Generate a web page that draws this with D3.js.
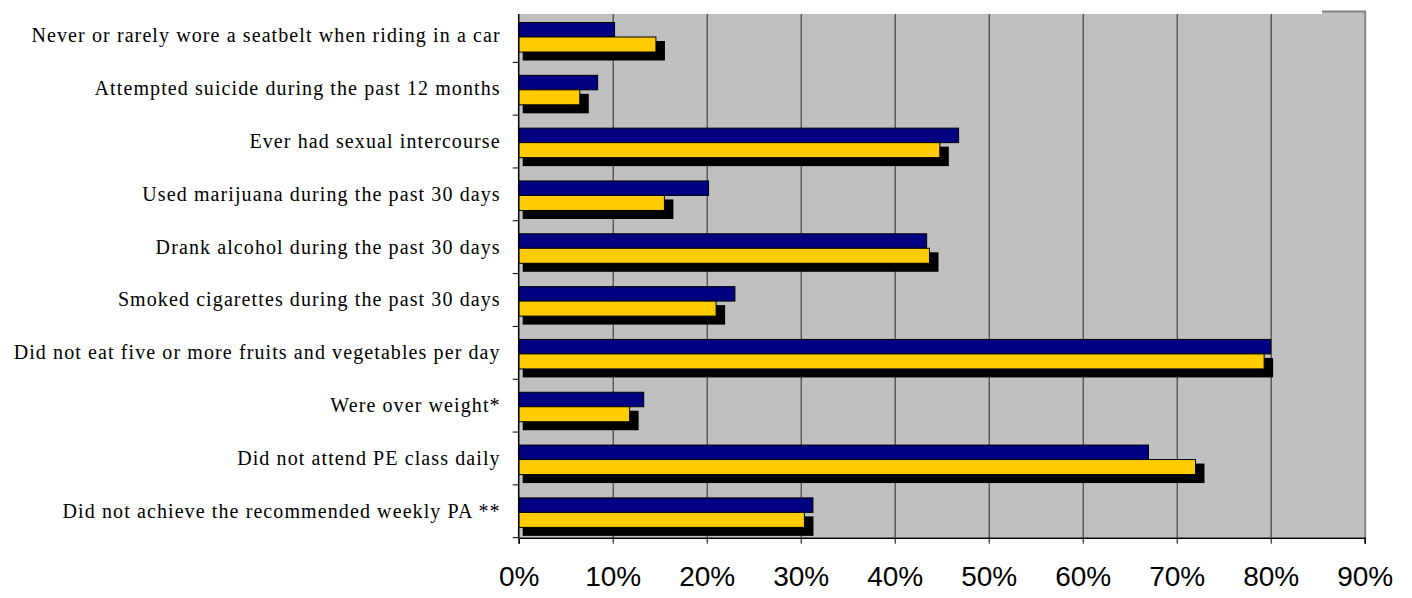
<!DOCTYPE html>
<html>
<head>
<meta charset="utf-8">
<script src="https://cdn.jsdelivr.net/npm/d3@7"></script>
<style>
  body { margin: 0; background: #fff; }
  .catLabel text { font-family: 'Liberation Serif', 'Times New Roman', serif; font-size: 20px; letter-spacing: 1.1px; fill: #000; }
  .xAxis text { font-family: 'Liberation Sans', Arial, sans-serif; font-size: 28px; fill: #000; }
</style>
</head>
<body>
<div class="chartContainer"></div>
<script>
var W = 1412;
var H = 598;

var categories = [
  'Never or rarely wore a seatbelt when riding in a car',
  'Attempted suicide during the past 12 months',
  'Ever had sexual intercourse',
  'Used marijuana during the past 30 days',
  'Drank alcohol during the past 30 days',
  'Smoked cigarettes during the past 30 days',
  'Did not eat five or more fruits and vegetables per day',
  'Were over weight*',
  'Did not attend PE class daily',
  'Did not achieve the recommended weekly PA **'
];

// navy series and yellow series
var navyValues = [0.102, 0.084, 0.468, 0.202, 0.434, 0.230, 0.800, 0.133, 0.670, 0.313];
var yellowValues = [0.146, 0.065, 0.448, 0.155, 0.437, 0.210, 0.793, 0.118, 0.720, 0.304];

var xTicks = [0, 0.1, 0.2, 0.3, 0.4, 0.5, 0.6, 0.7, 0.8, 0.9];

var svg = d3.select('.chartContainer').append('svg').attr('width', W).attr('height', H);

var xScale = d3.scaleLinear()
  .domain([0, 0.9])
  .range([518.7, 1364.7]);

var yScale = d3.scaleBand()
  .domain(categories)
  .range([9.5, 537.7])
  .paddingInner(0)
  .paddingOuter(0);

var x0 = xScale(0);
var plotBottom = yScale.range()[1];

/* ===== PLOT AREA ===== */

svg.append('rect')
  .attr('x', x0)
  .attr('y', 11)
  .attr('width', xScale(0.9) - x0)
  .attr('height', plotBottom - 11)
  .attr('fill', '#c0c0c0');

// plot border (top and right, grey)
svg.append('path')
  .attr('d', 'M' + x0 + ',11.5H' + (xScale(0.9) + 0.5) + 'V' + plotBottom)
  .attr('fill', 'none')
  .attr('stroke', '#808080')
  .attr('stroke-width', 2);

// white strip that hides the top of the plot area (as in the picture)
svg.append('rect')
  .attr('x', 0)
  .attr('y', 0)
  .attr('width', 1322)
  .attr('height', 14)
  .attr('fill', '#fff');

/* ===== GRIDLINES ===== */

svg.append('g')
  .selectAll('line')
  .data(xTicks.slice(1, -1))
  .enter()
  .append('line')
  .attr('x1', function (d) { return xScale(d) + 0.5; })
  .attr('x2', function (d) { return xScale(d) + 0.5; })
  .attr('y1', 14)
  .attr('y2', plotBottom)
  .attr('stroke', '#2a2a2a')
  .attr('stroke-width', 1);

/* ===== BARS ===== */

var navyTop = 13, navyH = 14.5;
var yellowTop = 27.5, yellowH = 15;

var groups = svg.selectAll('g.cat')
  .data(categories)
  .enter()
  .append('g')
  .attr('class', 'cat');

// black shadow behind the yellow bars
groups.append('rect')
  .attr('x', x0 + 4)
  .attr('y', function (d) { return yScale(d) + yellowTop + 4; })
  .attr('width', function (d, i) { return xScale(yellowValues[i]) - x0 + 5; })
  .attr('height', yellowH + 4.5)
  .attr('fill', '#000');

groups.append('rect')
  .attr('x', x0)
  .attr('y', function (d) { return yScale(d) + navyTop; })
  .attr('width', function (d, i) { return xScale(navyValues[i]) - x0; })
  .attr('height', navyH)
  .attr('fill', '#000080')
  .attr('stroke', '#000')
  .attr('stroke-width', 1);

groups.append('rect')
  .attr('x', x0)
  .attr('y', function (d) { return yScale(d) + yellowTop; })
  .attr('width', function (d, i) { return xScale(yellowValues[i]) - x0; })
  .attr('height', yellowH)
  .attr('fill', '#ffcc00')
  .attr('stroke', '#000')
  .attr('stroke-width', 1);

/* ===== AXES ===== */

var xAxis = d3.axisBottom(xScale)
  .tickValues(xTicks)
  .tickFormat(d3.format('.0%'))
  .tickSize(6)
  .tickPadding(22);

var gx = svg.append('g')
  .attr('class', 'xAxis')
  .attr('transform', 'translate(0,' + plotBottom + ')')
  .call(xAxis);
gx.select('.domain').attr('stroke', '#000').attr('stroke-width', 1.5);
gx.selectAll('.tick line').attr('stroke', '#000');

var yAxis = d3.axisLeft(yScale)
  .tickSize(0)
  .tickPadding(18);

var gy = svg.append('g')
  .attr('class', 'catLabel')
  .attr('transform', 'translate(' + x0 + ',0)')
  .call(yAxis);
gy.select('.domain').remove();
gy.selectAll('text').attr('dy', '0.32em');

// left axis line and ticks at category boundaries
svg.append('line')
  .attr('x1', x0)
  .attr('x2', x0)
  .attr('y1', 14)
  .attr('y2', plotBottom)
  .attr('stroke', '#000')
  .attr('stroke-width', 1.5);

svg.append('g')
  .selectAll('line')
  .data(categories)
  .enter()
  .append('line')
  .attr('x1', x0 - 6)
  .attr('x2', x0)
  .attr('y1', function (d) { return yScale(d) + yScale.bandwidth(); })
  .attr('y2', function (d) { return yScale(d) + yScale.bandwidth(); })
  .attr('stroke', '#000')
  .attr('stroke-width', 1);
</script>
</body>
</html>
